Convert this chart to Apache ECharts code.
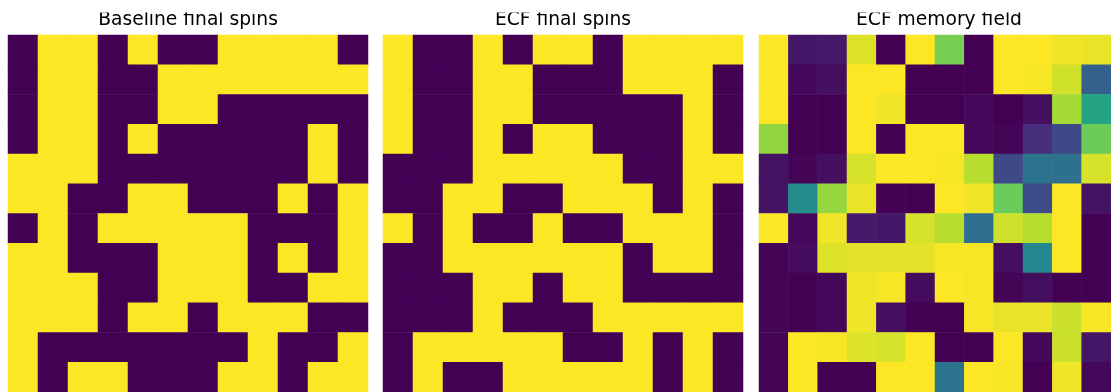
<!DOCTYPE html>
<html>
<head>
<meta charset="utf-8">
<script src="https://cdn.jsdelivr.net/npm/echarts@6/dist/echarts.min.js"></script>
<style>
  html, body { margin: 0; padding: 0; background: #fff; }
  #chart { width: 1111px; height: 392px; }
</style>
</head>
<body>
<div id="chart"></div>
<script>
// 12x12 lattices, row 0 at the top
const cols = [0, 1, 2, 3, 4, 5, 6, 7, 8, 9, 10, 11];
const rows = [0, 1, 2, 3, 4, 5, 6, 7, 8, 9, 10, 11];

const titles = ["Baseline final spins", "ECF final spins", "ECF memory field"];

// 1 = up (yellow), 0 = down (purple)
const baselineSpins = [
  [0, 1, 1, 0, 1, 0, 0, 1, 1, 1, 1, 0],
  [0, 1, 1, 0, 0, 1, 1, 1, 1, 1, 1, 1],
  [0, 1, 1, 0, 0, 1, 1, 0, 0, 0, 0, 0],
  [0, 1, 1, 0, 1, 0, 0, 0, 0, 0, 1, 0],
  [1, 1, 1, 0, 0, 0, 0, 0, 0, 0, 1, 0],
  [1, 1, 0, 0, 1, 1, 0, 0, 0, 1, 0, 1],
  [0, 1, 0, 1, 1, 1, 1, 1, 0, 0, 0, 1],
  [1, 1, 0, 0, 0, 1, 1, 1, 0, 1, 0, 1],
  [1, 1, 1, 0, 0, 1, 1, 1, 0, 0, 1, 1],
  [1, 1, 1, 0, 1, 1, 0, 1, 1, 1, 0, 0],
  [1, 0, 0, 0, 0, 0, 0, 0, 1, 0, 0, 1],
  [1, 0, 1, 1, 0, 0, 0, 1, 1, 0, 1, 1]
];

const ecfSpins = [
  [1, 0, 0, 1, 0, 1, 1, 0, 1, 1, 1, 1],
  [1, 0, 0, 1, 1, 0, 0, 0, 1, 1, 1, 0],
  [1, 0, 0, 1, 1, 0, 0, 0, 0, 0, 1, 0],
  [1, 0, 0, 1, 0, 1, 1, 0, 0, 0, 1, 0],
  [0, 0, 0, 1, 1, 1, 1, 1, 0, 0, 1, 1],
  [0, 0, 1, 1, 0, 0, 1, 1, 1, 0, 1, 0],
  [1, 0, 1, 0, 0, 1, 0, 0, 1, 1, 1, 0],
  [0, 0, 1, 1, 1, 1, 1, 1, 0, 1, 1, 0],
  [0, 0, 0, 1, 1, 0, 1, 1, 0, 0, 0, 0],
  [0, 0, 0, 1, 0, 0, 0, 1, 1, 1, 1, 1],
  [0, 1, 1, 1, 1, 1, 0, 0, 1, 0, 1, 0],
  [0, 1, 0, 0, 1, 1, 1, 1, 1, 0, 1, 0]
];

// memory field, normalised 0..1
const memoryField = [
  [1.00, 0.06, 0.07, 0.95, 0.00, 1.00, 0.79, 0.00, 1.00, 1.00, 0.98, 0.97],
  [1.00, 0.02, 0.04, 1.00, 1.00, 0.00, 0.00, 0.00, 1.00, 0.99, 0.93, 0.31],
  [1.00, 0.00, 0.00, 1.00, 0.98, 0.00, 0.00, 0.02, 0.00, 0.04, 0.86, 0.58],
  [0.83, 0.00, 0.00, 1.00, 0.00, 1.00, 1.00, 0.02, 0.01, 0.13, 0.22, 0.77],
  [0.05, 0.01, 0.04, 0.94, 1.00, 1.00, 0.99, 0.89, 0.22, 0.38, 0.37, 0.94],
  [0.05, 0.48, 0.84, 0.97, 0.00, 0.00, 1.00, 0.98, 0.77, 0.23, 1.00, 0.05],
  [1.00, 0.02, 0.98, 0.07, 0.06, 0.94, 0.89, 0.36, 0.93, 0.89, 1.00, 0.00],
  [0.01, 0.03, 0.95, 0.96, 0.96, 0.96, 0.99, 0.99, 0.04, 0.46, 1.00, 0.00],
  [0.01, 0.00, 0.02, 0.98, 0.99, 0.03, 1.00, 0.99, 0.01, 0.04, 0.00, 0.00],
  [0.01, 0.00, 0.02, 0.98, 0.04, 0.00, 0.00, 0.99, 0.97, 0.97, 0.92, 0.99],
  [0.01, 1.00, 0.99, 0.95, 0.94, 1.00, 0.00, 0.00, 1.00, 0.02, 0.92, 0.06],
  [0.01, 1.00, 0.00, 0.00, 1.00, 1.00, 0.38, 1.00, 0.99, 0.00, 0.98, 0.02]
];

const viridis = ["#440154", "#472d7b", "#3b528b", "#2c728e", "#21918c",
                 "#28ae80", "#5ec962", "#addc30", "#fde725"];

const panels = [baselineSpins, ecfSpins, memoryField];
// whole pixels so neighbouring cells don't leave seams
const panelLeft = [8, 383, 759];
const cell = 30;

function toCells(grid) {
  const out = [];
  rows.forEach(r => cols.forEach(c => out.push([c, r, grid[r][c]])));
  return out;
}

const chart = echarts.init(document.getElementById("chart"));

chart.setOption({
  animation: false,
  grid: panels.map((p, i) => ({
    left: panelLeft[i], top: 35, width: cell * cols.length, height: cell * rows.length
  })),
  xAxis: panels.map((p, i) => ({
    type: "category", gridIndex: i, data: cols, show: false
  })),
  yAxis: panels.map((p, i) => ({
    type: "category", gridIndex: i, data: rows, inverse: true, show: false
  })),
  visualMap: panels.map((p, i) => ({
    type: "continuous", show: false, seriesIndex: i, min: 0, max: 1,
    inRange: { color: viridis }
  })),
  series: panels.map((p, i) => ({
    type: "heatmap",
    xAxisIndex: i,
    yAxisIndex: i,
    data: toCells(p),
    itemStyle: { borderWidth: 0 }
  })),
  graphic: [
    ...titles.map((t, i) => ({
      type: "text",
      z: 10,
      style: {
        x: panelLeft[i] + cell * 6,
        y: 20,
        text: t,
        align: "center",
        verticalAlign: "middle",
        fontFamily: "DejaVu Sans",
        fontSize: 18.7,
        fill: "#000"
      }
    })),
    // the picture is clipped just above the title caps
    { type: "rect", z: 20, shape: { x: 0, y: 0, width: 1111, height: 12.5 }, style: { fill: "#fff" } }
  ]
});
</script>
</body>
</html>
